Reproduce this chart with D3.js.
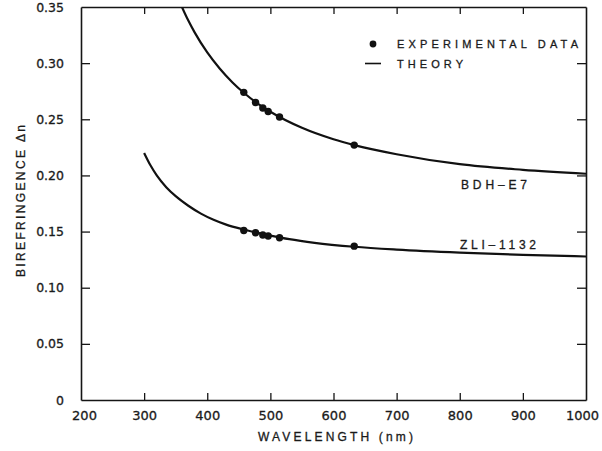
<!DOCTYPE html>
<html>
<head>
  <meta charset="utf-8">
  <title>Birefringence vs wavelength</title>
  <script src="https://cdn.jsdelivr.net/npm/d3@7"></script>
  <style>
    body { margin: 0; background: #fff; }
    .frame path.domain { stroke: #151515; stroke-width: 1.6px; }
    .frame line { stroke: #151515; stroke-width: 1.3px; }
    .frame text { font-family: "DejaVu Sans", sans-serif; fill: #1a1a1a; stroke: #1a1a1a; stroke-width: 0.3px; }
    .curve { fill: none; stroke: #111; stroke-width: 2.2px; }
    .dot { fill: #111; }
    .lbl { font-family: "Liberation Sans", Arial, sans-serif; fill: #1a1a1a; stroke: #1a1a1a; stroke-width: 0.3px; }
  </style>
</head>
<body>
<div class="chart"></div>
<script>
  // measured points (wavelength nm, birefringence)
  var wavelengths = [457.9, 476.5, 488, 496.5, 514.5, 632.8];
  var bdhData = [0.274, 0.265, 0.260, 0.257, 0.252, 0.227];
  var zliData = [0.151, 0.149, 0.147, 0.146, 0.1445, 0.137];

  // theory curves
  var bdhTheoryX = [350, 370, 380, 400, 420, 440, 457.9, 480, 500, 550, 600, 633, 700, 800, 900, 1000];
  var bdhTheoryY = [0.3626, 0.3379, 0.3274, 0.3095, 0.2950, 0.2828, 0.2736, 0.2640, 0.2567, 0.2424, 0.2322, 0.2270, 0.2189, 0.2100, 0.2050, 0.2015];
  var zliTheoryX = [300, 310, 320, 335, 350, 370, 390, 410, 430, 457.9, 480, 500, 530, 570, 633, 700, 800, 900, 1000];
  var zliTheoryY = [0.220, 0.209, 0.200, 0.1895, 0.1815, 0.1730, 0.1660, 0.1605, 0.1562, 0.1518, 0.1488, 0.1464, 0.1432, 0.1400, 0.1365, 0.1340, 0.1313, 0.1293, 0.1278];

  var xTicks = [200, 300, 400, 500, 600, 700, 800, 900, 1000];
  var yTicks = [0, 0.05, 0.10, 0.15, 0.20, 0.25, 0.30, 0.35];

  var margin = { top: 7, left: 81, bottom: 51, right: 16 };
  var width = 505;
  var height = 393;

  var root = d3.select('.chart').append('svg')
    .attr('width', 602).attr('height', 451);

  root.append('defs').append('clipPath').attr('id', 'plot')
    .append('rect').attr('width', width).attr('height', height);

  var svg = root.append('g')
    .attr('transform', 'translate(' + margin.left + ',' + margin.top + ')');

  var x = d3.scaleLinear().domain([200, 1000]).range([0, width]);
  var y = d3.scaleLinear().domain([0, 0.35]).range([height, 0]);

  var yFmt = function (d) { return d === 0 ? '0' : d3.format('.2f')(d); };

  // frame: ticks point inward on all four sides
  var bottom = svg.append('g').attr('class', 'frame')
    .attr('transform', 'translate(0,' + height + ')')
    .call(d3.axisBottom(x).tickValues(xTicks).tickFormat(d3.format('d'))
      .tickSizeInner(-7).tickSizeOuter(0).tickPadding(11));
  bottom.selectAll('text').style('font-size', '13px')
    .attr('dx', function (d) { return d === 1000 ? -4 : (d === 200 ? 3 : 0); });

  svg.append('g').attr('class', 'frame')
    .call(d3.axisTop(x).tickValues(xTicks).tickSizeInner(-7).tickSizeOuter(0).tickFormat(''));

  svg.append('g').attr('class', 'frame')
    .call(d3.axisLeft(y).tickValues(yTicks).tickFormat(yFmt).tickSizeInner(-9).tickSizeOuter(0).tickPadding(17))
    .selectAll('text').style('font-size', '12.5px');

  svg.append('g').attr('class', 'frame')
    .attr('transform', 'translate(' + width + ',0)')
    .call(d3.axisRight(y).tickValues(yTicks).tickSizeInner(-9).tickSizeOuter(0).tickFormat(''));

  svg.selectAll('.frame .tick').filter(function (d) { return d === 200 || d === 1000 || d === 0 || d === 0.35; })
    .select('line').remove();

  var line = d3.line()
    .x(function (d) { return x(d[0]); })
    .y(function (d) { return y(d[1]); })
    .curve(d3.curveMonotoneX);

  var curves = svg.append('g').attr('clip-path', 'url(#plot)');
  curves.append('path').attr('class', 'curve')
    .attr('d', line(d3.zip(bdhTheoryX, bdhTheoryY)));
  curves.append('path').attr('class', 'curve')
    .attr('d', line(d3.zip(zliTheoryX, zliTheoryY)));

  svg.append('g').selectAll('circle')
    .data(d3.zip(wavelengths, bdhData).concat(d3.zip(wavelengths, zliData)))
    .enter().append('circle')
      .attr('class', 'dot')
      .attr('cx', function (d) { return x(d[0]); })
      .attr('cy', function (d) { return y(d[1]); })
      .attr('r', 3.7);

  // curve labels
  svg.append('text').attr('class', 'lbl')
    .attr('x', 380).attr('y', 182)
    .attr('textLength', 66).attr('lengthAdjust', 'spacing')
    .style('font-size', '12px')
    .text('BDH–E7');
  svg.append('text').attr('class', 'lbl')
    .attr('x', 379).attr('y', 242)
    .attr('textLength', 76).attr('lengthAdjust', 'spacing')
    .style('font-size', '12px')
    .text('ZLI–1132');

  // legend
  var legend = svg.append('g').attr('transform', 'translate(284,37)');
  legend.append('circle').attr('class', 'dot').attr('cx', 8).attr('cy', 0).attr('r', 3.4);
  legend.append('text').attr('class', 'lbl')
    .attr('x', 32).attr('y', 4.3)
    .attr('textLength', 181).attr('lengthAdjust', 'spacing')
    .style('font-size', '11px')
    .text('EXPERIMENTAL DATA');
  legend.append('line')
    .attr('x1', 0).attr('x2', 16).attr('y1', 19.5).attr('y2', 19.5)
    .style('stroke', '#111').style('stroke-width', 1.6);
  legend.append('text').attr('class', 'lbl')
    .attr('x', 32).attr('y', 23.5)
    .attr('textLength', 66).attr('lengthAdjust', 'spacing')
    .style('font-size', '11px')
    .text('THEORY');

  // axis titles
  svg.append('text').attr('class', 'lbl')
    .attr('x', 177).attr('y', 434)
    .attr('textLength', 155).attr('lengthAdjust', 'spacing')
    .style('font-size', '12px')
    .text('WAVELENGTH (nm)');

  svg.append('text').attr('class', 'lbl')
    .attr('transform', 'translate(' + (25 - margin.left) + ',' + (277 - margin.top) + ') rotate(-90)')
    .attr('textLength', 152).attr('lengthAdjust', 'spacing')
    .style('font-size', '12px')
    .text('BIREFRINGENCE  Δn');
</script>
</body>
</html>
